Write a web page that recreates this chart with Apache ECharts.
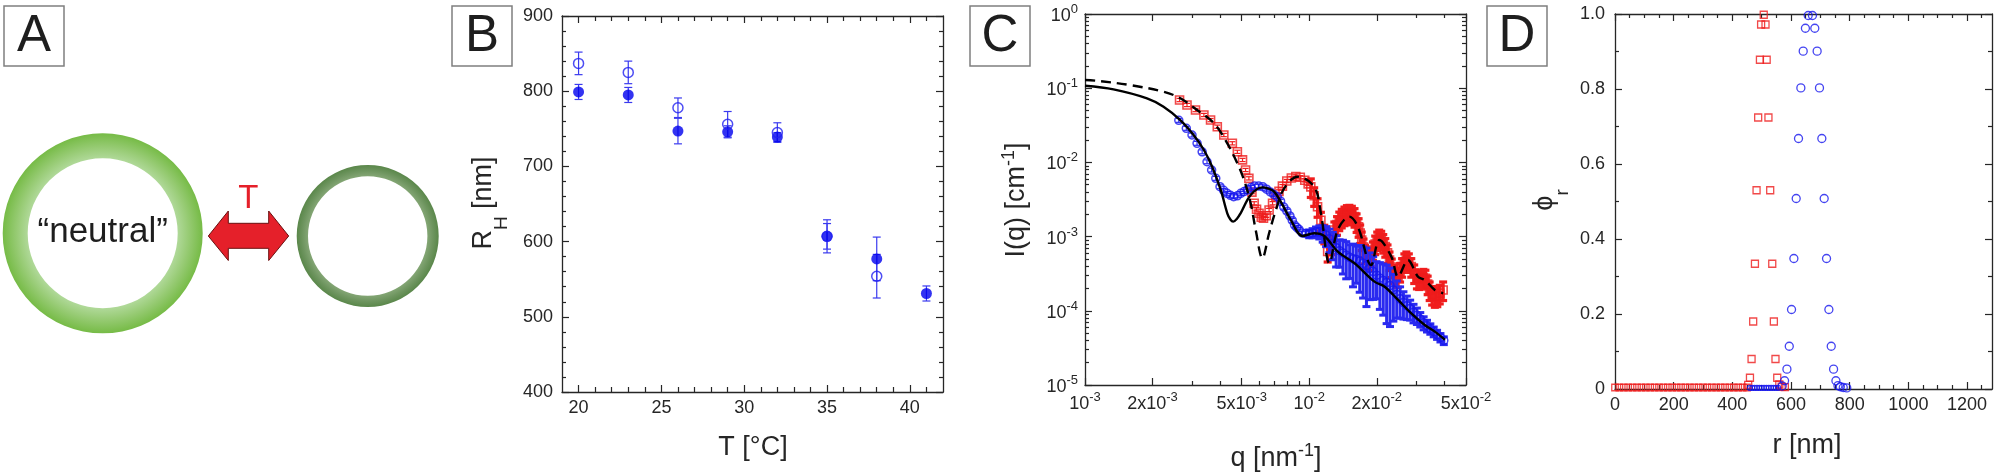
<!DOCTYPE html>
<html>
<head>
<meta charset="utf-8">
<script src="https://cdn.jsdelivr.net/npm/echarts@6/dist/echarts.min.js"></script>
<style>
html, body { margin: 0; padding: 0; background: #fff; }
#main { width: 2000px; height: 475px; }
</style>
</head>
<body>
<div id="main"></div>
<script>
// ---- panel B : hydrodynamic radius vs temperature
var tempB = [20, 23, 26, 29, 32, 35, 38, 41];
var rhFilled = [799, 795, 747, 746, 739, 607, 577, 531];
var rhFilledErr = [10, 10, 17, 8, 6, 17, 29, 10];
var tempOpen = [20, 23, 26, 29, 32, 35, 38];
var rhOpen = [837, 825, 778, 756, 745, 607, 554];
var rhOpenErr = [15, 15, 13, 17, 13, 22, 29];
var bXMajor = [20, 25, 30, 35, 40];
var bXMinor = [21, 22, 23, 24, 26, 27, 28, 29, 31, 32, 33, 34, 36, 37, 38, 39, 41];

// ---- panel C : scattering intensity (q in nm^-1, I in cm^-1, err = relative)
var qBlue = [0.00262, 0.00283, 0.00300, 0.00316, 0.00333, 0.00350, 0.00367, 0.00383, 0.00400, 0.00415,
  0.00430, 0.00445, 0.00460, 0.00478, 0.00495, 0.00512, 0.00530, 0.00550, 0.00570, 0.00595,
  0.00620, 0.00645, 0.00670, 0.00695, 0.00720, 0.00745, 0.00770, 0.00795, 0.00820, 0.00840,
  0.00860, 0.00880, 0.00900, 0.00930, 0.00965,
  0.01000, 0.01035, 0.01072, 0.01109, 0.01148, 0.01189, 0.01230, 0.01274, 0.01318, 0.01365,
  0.01413, 0.01462, 0.01514, 0.01567, 0.01622, 0.01679, 0.01738, 0.01799, 0.01862, 0.01928,
  0.01995, 0.02065, 0.02138, 0.02213, 0.02291, 0.02371, 0.02455, 0.02541, 0.02630, 0.02723,
  0.02818, 0.02917, 0.03020, 0.03126, 0.03236, 0.03350, 0.03467, 0.03589, 0.03715, 0.03846, 0.03981];
var iBlue = [0.0369, 0.0288, 0.0234, 0.0181, 0.0139, 0.0102, 0.0079, 0.0061, 0.0047, 0.0042,
  0.00383, 0.00360, 0.00345, 0.00355, 0.00383, 0.00405, 0.00425, 0.00460, 0.00480, 0.00480,
  0.00470, 0.00435, 0.00400, 0.00370, 0.00345, 0.00300, 0.00250, 0.00220, 0.00190, 0.00165,
  0.00143, 0.00133, 0.00125, 0.00112, 0.00110,
  1.096e-3, 1.122e-3, 1.161e-3, 1.161e-3, 1.122e-3, 1.047e-3, 9.33e-4, 8.13e-4, 7.08e-4, 6.46e-4,
  6.03e-4, 5.62e-4, 5.25e-4, 5.01e-4, 4.90e-4, 4.68e-4, 4.37e-4, 4.07e-4, 3.72e-4, 3.39e-4,
  3.02e-4, 2.75e-4, 2.57e-4, 2.40e-4, 2.19e-4, 1.91e-4, 1.66e-4, 1.45e-4, 1.29e-4, 1.17e-4,
  1.07e-4, 9.55e-5, 8.71e-5, 7.76e-5, 6.92e-5, 6.31e-5, 5.75e-5, 5.25e-5, 4.79e-5, 4.37e-5, 3.98e-5];
var errBlue = [0.06, 0.06, 0.06, 0.06, 0.06, 0.06, 0.06, 0.06, 0.06, 0.06,
  0.06, 0.06, 0.06, 0.06, 0.06, 0.06, 0.06, 0.06, 0.06, 0.06,
  0.06, 0.06, 0.06, 0.06, 0.06, 0.06, 0.06, 0.06, 0.06, 0.06,
  0.06, 0.06, 0.06, 0.06, 0.06,
  0.12, 0.14, 0.16, 0.20, 0.25, 0.30, 0.35, 0.40, 0.45, 0.40,
  0.48, 0.52, 0.48, 0.58, 0.52, 0.62, 0.66, 0.72, 0.62, 0.58,
  0.52, 0.62, 0.66, 0.72, 0.72, 0.62, 0.52, 0.45, 0.40, 0.35,
  0.30, 0.28, 0.25, 0.22, 0.20, 0.18, 0.16, 0.15, 0.14, 0.13, 0.12];

var qRed = [0.00264, 0.00285, 0.00311, 0.00339, 0.00363, 0.00389, 0.00416, 0.00454, 0.00478, 0.00504,
  0.00520, 0.00538, 0.00555, 0.00568, 0.00582, 0.00597, 0.00611, 0.00625, 0.00643, 0.00662,
  0.00686, 0.00710, 0.00733, 0.00759, 0.00794, 0.00832, 0.00871, 0.00912, 0.00955, 0.00989,
  0.01016, 0.01052, 0.01089, 0.01127, 0.01167, 0.01208, 0.01250, 0.01294, 0.01330, 0.01361,
  0.01396, 0.01435, 0.01472, 0.01510, 0.01549, 0.01592, 0.01626, 0.01660, 0.01687, 0.01714,
  0.01746, 0.01774, 0.01807, 0.01837, 0.01879, 0.01923, 0.01968, 0.02009, 0.02051, 0.02094,
  0.02138, 0.02183, 0.02234, 0.02280, 0.02333, 0.02388, 0.02438, 0.02489, 0.02541, 0.02594,
  0.02655, 0.02710, 0.02780, 0.02851, 0.02938, 0.03020, 0.03090, 0.03162, 0.03228, 0.03296,
  0.03373, 0.03443, 0.03532, 0.03631, 0.03724, 0.03819, 0.03954];
var iRed = [0.0693, 0.0594, 0.0508, 0.0436, 0.0372, 0.0303, 0.0234, 0.0181, 0.0139, 0.0108,
  0.00791, 0.00610, 0.00398, 0.00281, 0.00234, 0.00206, 0.00182, 0.00177, 0.00191, 0.00228,
  0.00282, 0.00345, 0.00407, 0.00479, 0.00562, 0.00617, 0.00646, 0.00631, 0.00575, 0.00513,
  0.00468, 0.00355, 0.00253, 0.00166, 0.00111, 0.000631, 0.000794, 0.00123, 0.00145, 0.00167,
  0.00182, 0.00195, 0.00204, 0.00206, 0.00200, 0.00186, 0.00158, 0.00136, 0.00112, 0.000899,
  0.000724, 0.000596, 0.000513, 0.000484, 0.000550, 0.000661, 0.000794, 0.000899, 0.000955, 0.000920,
  0.000832, 0.000733, 0.000603, 0.000484, 0.000389, 0.000320, 0.000288, 0.000288, 0.000339, 0.000394,
  0.000457, 0.000484, 0.000457, 0.000394, 0.000324, 0.000274, 0.000269, 0.000274, 0.000282, 0.000275,
  0.000229, 0.000191, 0.000166, 0.000155, 0.000158, 0.000172, 0.000191];
var errRed = [0.05, 0.05, 0.05, 0.05, 0.05, 0.05, 0.05, 0.05, 0.05, 0.05,
  0.05, 0.05, 0.05, 0.05, 0.05, 0.05, 0.05, 0.05, 0.05, 0.05,
  0.05, 0.05, 0.05, 0.05, 0.05, 0.05, 0.05, 0.05, 0.05, 0.05,
  0.28, 0.28, 0.28, 0.28, 0.28, 0.28, 0.28, 0.28, 0.28, 0.28,
  0.28, 0.28, 0.28, 0.28, 0.28, 0.28, 0.28, 0.28, 0.28, 0.28,
  0.28, 0.28, 0.28, 0.28, 0.28, 0.28, 0.28, 0.28, 0.28, 0.28,
  0.28, 0.28, 0.28, 0.28, 0.28, 0.28, 0.28, 0.28, 0.28, 0.28,
  0.28, 0.28, 0.28, 0.28, 0.28, 0.28, 0.28, 0.28, 0.28, 0.28,
  0.28, 0.28, 0.28, 0.28, 0.28, 0.28, 0.28];

var qFitBlue = [0.00100, 0.00134, 0.00189, 0.00224, 0.00266, 0.00305, 0.00339, 0.00369, 0.00403, 0.00431,
  0.00445, 0.00458, 0.00476, 0.00494, 0.00548, 0.00618, 0.00652, 0.00697, 0.00746, 0.00828,
  0.00933, 0.01052, 0.01167, 0.01340, 0.01592, 0.01954, 0.02168, 0.02489, 0.02851, 0.03273, 0.03631, 0.04027];
var iFitBlue = [0.108, 0.0966, 0.0731, 0.0564, 0.0372, 0.0234, 0.0147, 0.00875, 0.00425, 0.00206,
  0.00170, 0.00159, 0.00174, 0.00206, 0.00364, 0.00461, 0.00447, 0.00403, 0.00296, 0.00167,
  0.00102, 0.00111, 0.00102, 0.000627, 0.000437, 0.000247, 0.000211, 0.000140, 0.0000925, 0.0000644, 0.0000524, 0.0000407];
var qFitRed = [0.00100, 0.00113, 0.00159, 0.00224, 0.00266, 0.00316, 0.00376, 0.00431, 0.00478, 0.00512,
  0.00548, 0.00577, 0.00618, 0.00662, 0.00710, 0.00773, 0.00887, 0.01052, 0.01127, 0.01230,
  0.01340, 0.01510, 0.01648, 0.01888, 0.02056, 0.02323, 0.02489, 0.02754, 0.03055, 0.03273, 0.03631, 0.03954];
var iFitRed = [0.129, 0.126, 0.110, 0.0897, 0.0731, 0.0508, 0.0337, 0.0181, 0.00970, 0.00579,
  0.00281, 0.00123, 0.000511, 0.00111, 0.00228, 0.00447, 0.00641, 0.00471, 0.00206, 0.000437,
  0.00123, 0.00186, 0.00136, 0.000414, 0.000899, 0.000537, 0.000288, 0.000484, 0.000288, 0.000260, 0.000191, 0.000172];

var cXTicks = [0.001, 0.002, 0.005, 0.01, 0.02, 0.05];
var cXMinor = [0.003, 0.004, 0.006, 0.007, 0.008, 0.009, 0.03, 0.04];
var cYTicks = [1e-5, 1e-4, 1e-3, 1e-2, 1e-1, 1];
var cYMinor = [2e-5, 3e-5, 4e-5, 5e-5, 6e-5, 7e-5, 8e-5, 9e-5,
  2e-4, 3e-4, 4e-4, 5e-4, 6e-4, 7e-4, 8e-4, 9e-4,
  2e-3, 3e-3, 4e-3, 5e-3, 6e-3, 7e-3, 8e-3, 9e-3,
  2e-2, 3e-2, 4e-2, 5e-2, 6e-2, 7e-2, 8e-2, 9e-2,
  0.2, 0.3, 0.4, 0.5, 0.6, 0.7, 0.8, 0.9];

// ---- panel D : radial density profiles
var rRedBase = [0, 15, 30, 45, 60, 75, 90, 105, 120, 135, 150, 165, 180, 195, 210, 225,
  240, 255, 270, 285, 300, 315, 330, 345, 360, 375, 390, 405, 420, 435, 450];
var phiRedBase = [0.004, 0.004, 0.004, 0.004, 0.004, 0.004, 0.004, 0.004, 0.004, 0.004, 0.004, 0.004, 0.004, 0.004, 0.004, 0.004,
  0.004, 0.004, 0.004, 0.004, 0.004, 0.004, 0.004, 0.004, 0.004, 0.004, 0.004, 0.004, 0.004, 0.004, 0.004];
var rRed = [454, 460, 465.5, 471, 477, 482.5, 488, 494, 498, 507, 513, 517, 523, 529, 536, 541.5, 547, 553, 560, 568, 579];
var phiRed = [0.011, 0.030, 0.080, 0.180, 0.334, 0.530, 0.724, 0.878, 0.972, 0.998, 0.972, 0.878, 0.724, 0.530, 0.334,
  0.180, 0.080, 0.030, 0.012, 0.006, 0.005];
var rBlueBase = [460, 468, 476, 484, 492, 500, 508, 516, 524, 532, 540, 548, 556];
var phiBlueBase = [0.003, 0.003, 0.003, 0.003, 0.003, 0.003, 0.003, 0.003, 0.003, 0.003, 0.003, 0.003, 0.003];
var rBlue = [570, 578, 586, 594, 601.7, 609.7, 617.6, 625.5, 633.5, 641.5, 649, 658.5, 673, 681, 689, 697,
  705, 713, 721, 729, 737, 745, 753, 760, 768, 778, 790];
var phiBlue = [0.008, 0.022, 0.053, 0.114, 0.212, 0.348, 0.508, 0.668, 0.803, 0.901, 0.962, 0.996, 0.996, 0.962,
  0.901, 0.803, 0.668, 0.508, 0.348, 0.212, 0.114, 0.053, 0.022, 0.009, 0.006, 0.004, 0.003];
var dXMajor = [0, 200, 400, 600, 800, 1000, 1200];
var dXMinor = [50, 100, 150, 250, 300, 350, 450, 500, 550, 650, 700, 750, 850, 900, 950, 1050, 1100, 1150, 1250];

var INK = '#262626';
var BLUE = '#1515ee';
var RED = '#ee1c1c';
var FONT = "'Liberation Sans', Arial, sans-serif";

function pairs(xs, ys) {
  return xs.map(function (x, i) { return [x, ys[i]]; });
}
// rows [x, low, high] for error bars
function errRows(xs, ys, es, relative) {
  return xs.map(function (x, i) {
    var e = relative ? ys[i] * es[i] : es[i];
    return [x, ys[i] - e, ys[i] + e];
  });
}
function lg(v) { return Math.log10(v); }

// vertical error bar with caps; long bars (dense high-q data) are drawn heavier
function errorBars(capW, color, lw, heavyLw, heavyFrom) {
  return function (params, api) {
    var x = api.value(0);
    var lo = api.coord([x, api.value(1)]);
    var hi = api.coord([x, api.value(2)]);
    var heavy = heavyFrom && Math.abs(lo[1] - hi[1]) > heavyFrom;
    var h = (heavy ? capW + 2 : capW) / 2;
    var st = { stroke: color, lineWidth: heavy ? heavyLw : lw };
    return {
      type: 'group',
      children: [
        { type: 'line', shape: { x1: lo[0], y1: lo[1], x2: hi[0], y2: hi[1] }, style: st },
        { type: 'line', shape: { x1: lo[0] - h, y1: lo[1], x2: lo[0] + h, y2: lo[1] }, style: st },
        { type: 'line', shape: { x1: hi[0] - h, y1: hi[1], x2: hi[0] + h, y2: hi[1] }, style: st }
      ]
    };
  };
}

function ax(o) {
  var a = {
    type: o.type || 'value',
    gridIndex: o.grid,
    position: o.pos,
    min: o.min,
    max: o.max,
    splitLine: { show: false },
    axisLine: { show: !!o.line, onZero: false, lineStyle: { color: INK, width: 1.3 } },
    axisTick: { show: !!o.ticks, inside: true, length: o.len || 7, lineStyle: { color: INK, width: 1.2 } },
    axisLabel: { show: !!o.labels, color: INK, fontSize: 18, fontFamily: FONT, margin: o.margin || 8 },
    minorTick: { show: !!o.minor, splitNumber: o.minor || 5, length: 4, lineStyle: { color: INK, width: 1.2 } }
  };
  if (o.interval) a.interval = o.interval;
  if (Array.isArray(o.ticks)) a.axisTick.customValues = o.ticks;
  if (Array.isArray(o.labels)) a.axisLabel.customValues = o.labels;
  if (o.fmt) a.axisLabel.formatter = o.fmt;
  if (o.rich) a.axisLabel.rich = o.rich;
  return a;
}

var tickRich = {
  b: { fontSize: 18, fontFamily: FONT, color: INK, lineHeight: 22, verticalAlign: 'bottom' },
  s: { fontSize: 13, fontFamily: FONT, color: INK, lineHeight: 13, verticalAlign: 'top' }
};
function decadeLabel(v) {
  var e = Math.floor(v + 1e-6);
  var m = Math.round(Math.pow(10, v - e));
  return (m === 1 ? '{b|10}' : '{b|' + m + 'x10}') + '{s|' + e + '}';
}
function plainNum(v) { return String(v); }

var LXMIN = lg(0.001), LXMAX = lg(0.05);

var xAxes = [
  // B
  ax({ grid: 0, pos: 'bottom', min: 19, max: 42, line: true, ticks: bXMajor, labels: bXMajor, margin: 7 }),
  ax({ grid: 0, pos: 'bottom', min: 19, max: 42, ticks: bXMinor, len: 5 }),
  ax({ grid: 0, pos: 'top', min: 19, max: 42, line: true, ticks: bXMajor }),
  ax({ grid: 0, pos: 'top', min: 19, max: 42, ticks: bXMinor, len: 5 }),
  // C (4 = data log axis)
  ax({ grid: 1, type: 'log', pos: 'bottom', min: 0.001, max: 0.05, line: true }),
  ax({ grid: 1, pos: 'bottom', min: LXMIN, max: LXMAX, ticks: cXTicks.map(lg), labels: cXTicks.map(lg),
       fmt: decadeLabel, rich: tickRich, margin: 6 }),
  ax({ grid: 1, pos: 'bottom', min: LXMIN, max: LXMAX, ticks: cXMinor.map(lg), len: 4 }),
  ax({ grid: 1, pos: 'top', min: LXMIN, max: LXMAX, line: true, ticks: cXTicks.map(lg) }),
  ax({ grid: 1, pos: 'top', min: LXMIN, max: LXMAX, ticks: cXMinor.map(lg), len: 4 }),
  // D (9 = data axis)
  ax({ grid: 2, pos: 'bottom', min: 0, max: 1285, line: true, ticks: dXMajor, labels: dXMajor, margin: 7, fmt: plainNum }),
  ax({ grid: 2, pos: 'bottom', min: 0, max: 1285, ticks: dXMinor, len: 4 }),
  ax({ grid: 2, pos: 'top', min: 0, max: 1285, line: true, ticks: dXMajor }),
  ax({ grid: 2, pos: 'top', min: 0, max: 1285, ticks: dXMinor, len: 4 })
];

var yAxes = [
  // B
  ax({ grid: 0, pos: 'left', min: 400, max: 900, interval: 100, line: true, ticks: true, labels: true, minor: 5, margin: 9 }),
  ax({ grid: 0, pos: 'right', min: 400, max: 900, interval: 100, line: true, ticks: true, minor: 5 }),
  // C (2 = data log axis)
  ax({ grid: 1, type: 'log', pos: 'left', min: 1e-5, max: 1, line: true }),
  ax({ grid: 1, pos: 'left', min: -5, max: 0, ticks: cYTicks.map(lg), labels: cYTicks.map(lg),
       fmt: decadeLabel, rich: tickRich, margin: 7 }),
  ax({ grid: 1, pos: 'left', min: -5, max: 0, ticks: cYMinor.map(lg), len: 4 }),
  ax({ grid: 1, pos: 'right', min: -5, max: 0, line: true, ticks: cYTicks.map(lg) }),
  ax({ grid: 1, pos: 'right', min: -5, max: 0, ticks: cYMinor.map(lg), len: 4 }),
  // D (7 = data axis)
  ax({ grid: 2, pos: 'left', min: 0, max: 1, interval: 0.2, line: true, ticks: true, labels: true, minor: 2, margin: 10,
       fmt: function (v) { return v === 0 ? '0' : v.toFixed(1); } }),
  ax({ grid: 2, pos: 'right', min: 0, max: 1, interval: 0.2, line: true, ticks: true, minor: 2 })
];

var subRich = {
  m: { fontSize: 27, fontFamily: FONT, fill: INK, color: INK, lineHeight: 30, verticalAlign: 'top' },
  s: { fontSize: 19, fontFamily: FONT, fill: INK, color: INK, lineHeight: 18, padding: [22, 0, 0, 0], verticalAlign: 'top' }
};
var supRich = {
  m: { fontSize: 27, fontFamily: FONT, fill: INK, color: INK, lineHeight: 30, verticalAlign: 'bottom' },
  p: { fontSize: 18, fontFamily: FONT, fill: INK, color: INK, lineHeight: 18, padding: [0, 0, 18, 0], verticalAlign: 'top' }
};
function label(x, y, text, rich, rot, extra) {
  var st = { text: text, fontSize: 27, fontFamily: FONT, fill: INK,
             align: 'center', verticalAlign: 'middle', textAlign: 'center', textVerticalAlign: 'middle' };
  if (rich) st.rich = rich;
  if (extra) Object.keys(extra).forEach(function (k) { st[k] = extra[k]; });
  return { type: 'text', x: x, y: y, rotation: rot || 0, style: st, z: 10 };
}
function letterBox(x, ch) {
  return [
    { type: 'rect', shape: { x: x, y: 6, width: 60, height: 60 }, style: { fill: '#fff', stroke: '#7f7f7f', lineWidth: 1.5 } },
    label(x + 30, 37, ch, null, 0, { fontSize: 51, fill: '#1e1e1e' })
  ];
}

var graphics = [].concat(
  letterBox(4, 'A'), letterBox(452, 'B'), letterBox(970, 'C'), letterBox(1487, 'D'),
  [
    { type: 'ring', shape: { cx: 102.7, cy: 233.3, r: 100, r0: 75 },
      style: { fill: new echarts.graphic.RadialGradient(0.5, 0.5, 0.5, [
        { offset: 0.74, color: '#b2da9c' }, { offset: 0.86, color: '#97cb74' }, { offset: 1, color: '#76bb46' }]) } },
    { type: 'ring', shape: { cx: 367.7, cy: 236, r: 71, r0: 59.7 },
      style: { fill: new echarts.graphic.RadialGradient(0.5, 0.5, 0.5, [
        { offset: 0.84, color: '#84a675' }, { offset: 0.92, color: '#6e955f' }, { offset: 1, color: '#5a874a' }]) } },
    { type: 'polygon',
      shape: { points: [[208.3, 236], [228.3, 211], [228.3, 223.3], [268.7, 223.3], [268.7, 211], [288.7, 236],
                        [268.7, 260.5], [268.7, 248.3], [228.3, 248.3], [228.3, 260.5]] },
      style: { fill: '#e5202a', stroke: '#6a1010', lineWidth: 1 } },
    label(248.3, 199, 'T', null, 0, { fontSize: 33, fill: '#e5202a' }),
    label(102.7, 232, '\u201Cneutral\u201D', null, 0, { fontSize: 35, fill: '#1e1e1e' }),
    // axis titles
    label(753, 448, 'T [\u00B0C]'),
    label(485, 203, '{m|R}{s|H}{m| [nm]}', subRich, Math.PI / 2),
    label(1276, 457, '{m|q [nm}{p|-1}{m|]}', supRich),
    label(1015, 200, '{m|I(q) [cm}{p|-1}{m|]}', supRich, Math.PI / 2),
    label(1807, 446, 'r [nm]'),
    label(1546, 200, '{m|\u03D5}{s|r}', subRich, Math.PI / 2)
  ]
);

var option = {
  animation: false,
  backgroundColor: '#fff',
  textStyle: { fontFamily: FONT },
  grid: [
    { left: 562, top: 16, width: 381, height: 376, outerBoundsMode: 'none' },
    { left: 1085, top: 14, width: 381, height: 371, outerBoundsMode: 'none' },
    { left: 1615, top: 14, width: 377, height: 375, outerBoundsMode: 'none' }
  ],
  xAxis: xAxes,
  yAxis: yAxes,
  graphic: graphics,
  series: [
    // B
    { type: 'custom', xAxisIndex: 0, yAxisIndex: 0, renderItem: errorBars(8, '#3a3aef', 1.2),
      encode: { x: 0, y: [1, 2] }, data: errRows(tempB, rhFilled, rhFilledErr, false), z: 2 },
    { type: 'custom', xAxisIndex: 0, yAxisIndex: 0, renderItem: errorBars(8, '#3a3aef', 1.2),
      encode: { x: 0, y: [1, 2] }, data: errRows(tempOpen, rhOpen, rhOpenErr, false), z: 2 },
    { type: 'scatter', xAxisIndex: 0, yAxisIndex: 0, symbol: 'circle', symbolSize: 11,
      itemStyle: { color: '#0000ee' }, data: pairs(tempB, rhFilled), z: 3 },
    { type: 'scatter', xAxisIndex: 0, yAxisIndex: 0, symbol: 'circle', symbolSize: 10,
      itemStyle: { color: 'rgba(0,0,0,0)', borderColor: '#2020f0', borderWidth: 1.5 }, data: pairs(tempOpen, rhOpen), z: 3 },
    // C
    { type: 'custom', xAxisIndex: 4, yAxisIndex: 2, renderItem: errorBars(6, '#f01e1e', 1.2, 3.2, 7), clip: true,
      encode: { x: 0, y: [1, 2] }, data: errRows(qRed, iRed, errRed, true), z: 2 },
    { type: 'scatter', xAxisIndex: 4, yAxisIndex: 2, symbol: 'rect', symbolSize: 8,
      itemStyle: { color: 'rgba(0,0,0,0)', borderColor: RED, borderWidth: 1.6 }, data: pairs(qRed, iRed), z: 3 },
    { type: 'custom', xAxisIndex: 4, yAxisIndex: 2, renderItem: errorBars(6, '#2a2af0', 1.2, 3, 7), clip: true,
      encode: { x: 0, y: [1, 2] }, data: errRows(qBlue, iBlue, errBlue, true), z: 4 },
    { type: 'scatter', xAxisIndex: 4, yAxisIndex: 2, symbol: 'circle', symbolSize: 8,
      itemStyle: { color: 'rgba(0,0,0,0)', borderColor: BLUE, borderWidth: 1.5 }, data: pairs(qBlue, iBlue), z: 5 },
    { type: 'line', xAxisIndex: 4, yAxisIndex: 2, smooth: 0.35, showSymbol: false, symbol: 'none',
      lineStyle: { color: '#000', width: 2.4, type: [10, 6] }, data: pairs(qFitRed, iFitRed), z: 6 },
    { type: 'line', xAxisIndex: 4, yAxisIndex: 2, smooth: 0.35, showSymbol: false, symbol: 'none',
      lineStyle: { color: '#000', width: 2.4 }, data: pairs(qFitBlue, iFitBlue), z: 6 },
    // D
    { type: 'scatter', xAxisIndex: 9, yAxisIndex: 7, symbol: 'rect', symbolSize: 6.5,
      itemStyle: { color: 'rgba(0,0,0,0)', borderColor: RED, borderWidth: 1.3 }, data: pairs(rRedBase, phiRedBase) },
    { type: 'scatter', xAxisIndex: 9, yAxisIndex: 7, symbol: 'rect', symbolSize: 7,
      itemStyle: { color: 'rgba(0,0,0,0)', borderColor: RED, borderWidth: 1.3 }, data: pairs(rRed, phiRed) },
    { type: 'scatter', xAxisIndex: 9, yAxisIndex: 7, symbol: 'circle', symbolSize: 5,
      itemStyle: { color: 'rgba(0,0,0,0)', borderColor: BLUE, borderWidth: 1.2 }, data: pairs(rBlueBase, phiBlueBase) },
    { type: 'scatter', xAxisIndex: 9, yAxisIndex: 7, symbol: 'circle', symbolSize: 8,
      itemStyle: { color: 'rgba(0,0,0,0)', borderColor: BLUE, borderWidth: 1.3 }, data: pairs(rBlue, phiBlue) }
  ]
};

var chart = echarts.init(document.getElementById('main'), null, { renderer: 'canvas' });
chart.setOption(option);
</script>
</body>
</html>
